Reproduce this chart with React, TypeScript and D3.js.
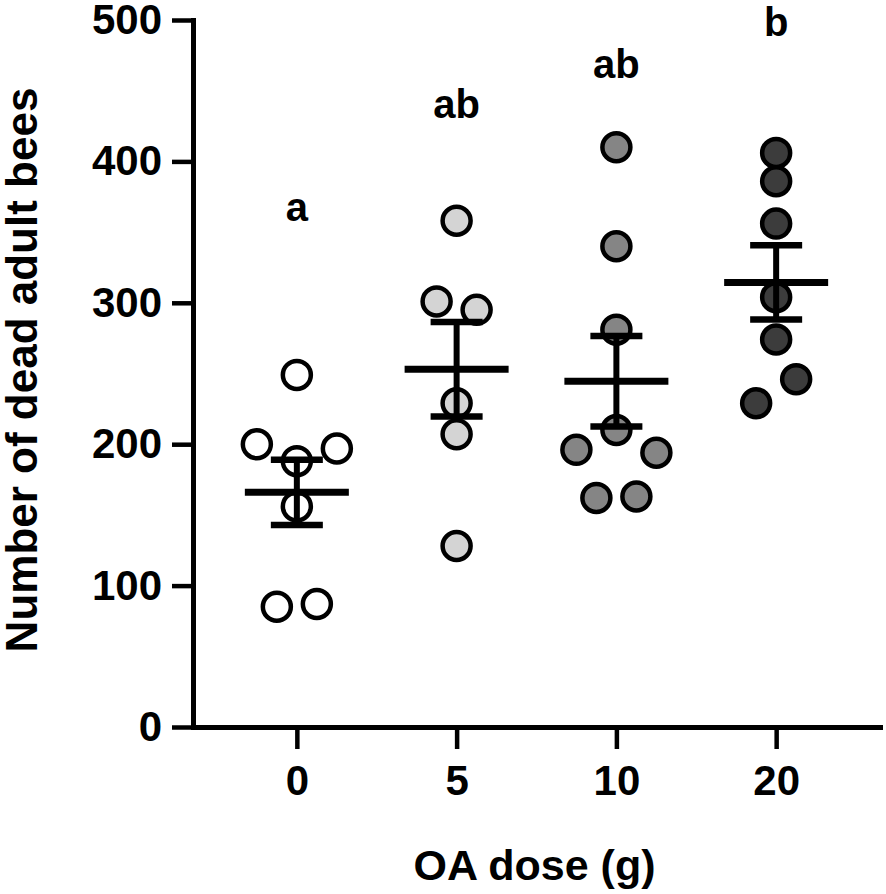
import { useEffect, useRef } from 'react';
import * as d3 from 'd3';

// values (dead adult bees per colony)
const doses = ['0', '5', '10', '20'];
const dose0 = [249, 200, 188, 197, 156, 85, 87];
const dose5 = [358, 301, 295, 229, 207, 128];
const dose10 = [410, 340, 281, 196, 210, 194, 162, 163];
const dose20 = [406, 386, 356, 304, 274, 229, 246];
const groups = [dose0, dose5, dose10, dose20];
const fills = ['#ffffff', '#d4d4d4', '#858585', '#3c3c3c'];
const letters = ['a', 'ab', 'ab', 'b'];
const letterAt = [358, 431, 459, 489];
const yTicks = [0, 100, 200, 300, 400, 500];

export default function App() {
  const svgRef = useRef<SVGSVGElement>(null);

  useEffect(() => {
    if (!svgRef.current) return;
    const svg = d3.select(svgRef.current);
    svg.selectAll('*').remove();

    const left = 193, right = 880, top = 20, bottom = 727;
    const font = '"Liberation Sans", Arial, Helvetica, sans-serif';

    const x = d3.scalePoint<string>().domain(doses).range([left, right]).padding(0.65);
    const y = d3.scaleLinear().domain([0, 500]).range([bottom, top]);

    const r = 14, step = 40;

    groups.forEach((vals, gi) => {
      const cx = x(doses[gi]) as number;

      // spread points that sit on the same row, like a scatter dot plot
      const order = d3.range(vals.length).sort((a, b) => vals[b] - vals[a]);
      const rows: number[][] = [];
      order.forEach((i) => {
        const row = rows[rows.length - 1];
        if (row && y(vals[i]) - y(vals[row[0]]) < 26) row.push(i);
        else rows.push([i]);
      });
      const offs = new Array(vals.length).fill(0);
      rows.forEach((row) => {
        row.sort((a, b) => a - b);
        row.forEach((i, k) => (offs[i] = (k - (row.length - 1) / 2) * step));
      });

      const g = svg.append('g');
      g.selectAll('circle')
        .data(vals)
        .enter()
        .append('circle')
        .attr('cx', (d, i) => cx + offs[i])
        .attr('cy', (d) => y(d))
        .attr('r', r)
        .attr('fill', fills[gi])
        .attr('stroke', '#000')
        .attr('stroke-width', 4.5);

      const m = d3.mean(vals) as number;
      const sem = (d3.deviation(vals) as number) / Math.sqrt(vals.length);

      g.append('line')
        .attr('x1', cx).attr('x2', cx)
        .attr('y1', y(m + sem)).attr('y2', y(m - sem))
        .attr('stroke', '#000').attr('stroke-width', 6);
      [m + sem, m - sem].forEach((v) => {
        g.append('line')
          .attr('x1', cx - 26).attr('x2', cx + 26)
          .attr('y1', y(v)).attr('y2', y(v))
          .attr('stroke', '#000').attr('stroke-width', 6.5);
      });
      g.append('line')
        .attr('x1', cx - 52).attr('x2', cx + 52)
        .attr('y1', y(m)).attr('y2', y(m))
        .attr('stroke', '#000').attr('stroke-width', 7);

      svg.append('text')
        .attr('x', cx)
        .attr('y', y(letterAt[gi]))
        .attr('text-anchor', 'middle')
        .attr('font-family', font)
        .attr('font-weight', 'bold')
        .attr('font-size', 40)
        .attr('fill', '#000')
        .text(letters[gi]);
    });

    // Y axis
    const yAxis = svg.append('g')
      .attr('transform', `translate(${left},0)`)
      .call(d3.axisLeft(y).tickValues(yTicks).tickSize(21).tickSizeOuter(0).tickPadding(10));
    yAxis.selectAll('text')
      .attr('font-family', font).attr('font-weight', 'bold').attr('font-size', 42).attr('fill', '#000');

    // X axis
    const xAxis = svg.append('g')
      .attr('transform', `translate(0,${bottom})`)
      .call(d3.axisBottom(x).tickSize(22).tickSizeOuter(0).tickPadding(16));
    xAxis.selectAll('text')
      .attr('font-family', font).attr('font-weight', 'bold').attr('font-size', 42).attr('fill', '#000');

    svg.selectAll('.domain').attr('stroke', '#000').attr('stroke-width', 5).attr('stroke-linecap', 'square');
    svg.selectAll('.tick line').attr('stroke', '#000').attr('stroke-width', 4.5);

    // titles
    svg.append('text')
      .attr('x', (left + right) / 2 - 2)
      .attr('y', 880)
      .attr('text-anchor', 'middle')
      .attr('font-family', font).attr('font-weight', 'bold').attr('font-size', 43)
      .text('OA dose (g)');

    svg.append('text')
      .attr('transform', `translate(37,370) rotate(-90)`)
      .attr('text-anchor', 'middle')
      .attr('font-family', font).attr('font-weight', 'bold').attr('font-size', 44)
      .text('Number of dead adult bees');
  }, []);

  return (
    <svg
      ref={svgRef}
      width={886}
      height={894}
      style={{ position: 'absolute', left: 0, top: 0, background: '#fff' }}
    />
  );
}
